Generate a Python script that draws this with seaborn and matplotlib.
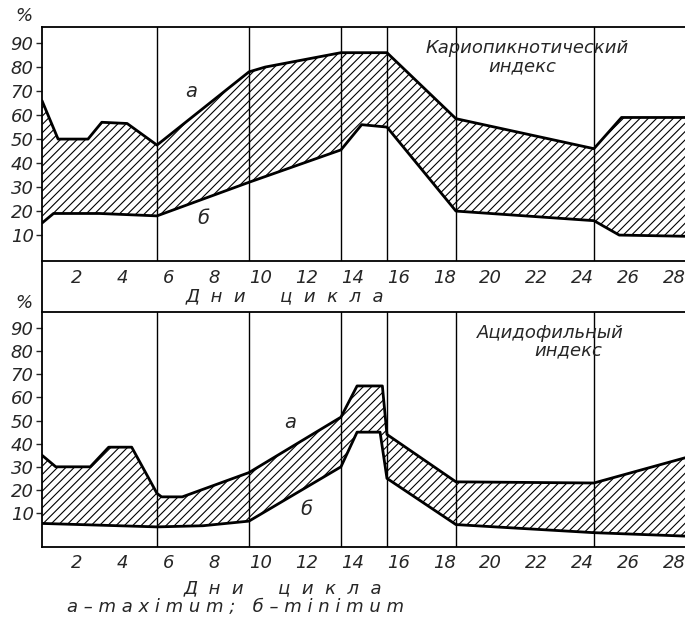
import matplotlib
matplotlib.use("Agg")
import matplotlib.pyplot as plt
from matplotlib.lines import Line2D
import numpy as np
import seaborn as sns

# Кариопикнотический индекс: a - maximum, б - minimum (день цикла, %)
kpi_max_day = [0.5, 1.2, 2.5, 3.1, 4.2, 5.5, 9.5, 10.2, 13.5, 15.5, 18.5, 24.5, 25.7, 28.5]
kpi_max = [66, 50, 50, 57, 56.5, 47.5, 78, 80, 86, 86, 58.5, 46, 59, 59]
kpi_min_day = [0.5, 1.0, 3.0, 5.5, 9.5, 13.5, 14.4, 15.5, 18.5, 24.5, 25.6, 28.5]
kpi_min = [15, 19, 19, 18, 32, 45.5, 56, 55, 20, 16, 10, 9.5]

# Ацидофильный индекс
aci_max_day = [0.5, 1.1, 2.6, 3.4, 4.4, 5.5, 5.7, 6.6, 9.5, 13.5, 14.2, 15.3, 15.5, 18.5, 24.5, 28.5]
aci_max = [35, 30, 30, 38.5, 38.5, 18.5, 17, 17, 27.5, 51.5, 65, 65, 44, 23.5, 23, 34]
aci_min_day = [0.5, 5.5, 7.5, 9.5, 13.5, 14.2, 15.2, 15.5, 18.5, 24.5, 28.5]
aci_min = [5.5, 4, 4.5, 6.5, 30, 45, 45, 25, 5, 1.5, 0]

phase_bounds = [5.5, 9.5, 13.5, 15.5, 18.5, 24.5]
day_ticks = list(range(2, 29, 2))
half_days = [d + 0.5 for d in range(1, 28)]
pct_ticks = list(range(10, 100, 10))

sns.set_style("white")
plt.rcParams["font.family"] = ["DejaVu Sans"]
plt.rcParams["font.style"] = "italic"
plt.rcParams["hatch.linewidth"] = 0.8

W, H = 685, 618
fig = plt.figure(figsize=(W / 100, H / 100), dpi=100)


def px_rect(left, top, right, bottom):
    return [left / W, 1 - bottom / H, (right - left) / W, (bottom - top) / H]


def panel(rect, ylim, mx_day, mx, mn_day, mn, tickdir, pad):
    ax = fig.add_axes(rect)
    xs = np.concatenate([mx_day, mn_day[::-1]])
    ys = np.concatenate([mx, mn[::-1]])
    ax.fill(xs, ys, facecolor="white", edgecolor="black", hatch="////", linewidth=0, zorder=1)
    for d in phase_bounds:
        ax.axvline(d, color="black", linewidth=1.0, zorder=2)
    sns.lineplot(x=mx_day, y=mx, color="black", linewidth=2.0, sort=False,
                 estimator=None, ax=ax, zorder=3)
    sns.lineplot(x=mn_day, y=mn, color="black", linewidth=2.0, sort=False,
                 estimator=None, ax=ax, zorder=3)
    ax.set_xlim(0.5, 28.46)
    ax.set_ylim(*ylim)
    ax.set_xticks(day_ticks)
    ax.set_xticks(half_days, minor=True)
    ax.set_yticks(pct_ticks)
    ax.tick_params(axis="x", which="major", length=0, pad=pad, labelsize=13)
    ax.tick_params(axis="x", which="minor", length=3, width=1, direction=tickdir)
    ax.tick_params(axis="y", left=True, length=4, width=1, direction="out",
                   pad=2, labelsize=13)
    ax.spines["right"].set_visible(False)
    for s in ["top", "left", "bottom"]:
        ax.spines[s].set_color("black")
        ax.spines[s].set_linewidth(1.3)
    ax.set_xlabel("")
    ax.set_ylabel("")
    return ax


ax1 = panel(px_rect(42, 27, 685, 261), (-0.8, 96.7),
            kpi_max_day, kpi_max, kpi_min_day, kpi_min, "in", 6)
ax2 = panel(px_rect(42, 312, 685, 547), (-4.7, 97),
            aci_max_day, aci_max, aci_min_day, aci_min, "out", 5)

# left frame line running through the label strip
fig.add_artist(Line2D([42 / W, 42 / W], [1 - 262 / H, 1 - 311 / H],
                      color="black", linewidth=1.3))

ax1.text(21.6, 88, "Кариопикнотический", ha="center", va="center", fontsize=13)
ax1.text(21.4, 80.5, "индекс", ha="center", va="center", fontsize=13)
ax1.text(7.0, 70, "а", ha="center", va="center", fontsize=14)
ax1.text(7.5, 17, "б", ha="center", va="center", fontsize=14)

ax2.text(22.6, 88, "Ацидофильный", ha="center", va="center", fontsize=13)
ax2.text(23.4, 80.5, "индекс", ha="center", va="center", fontsize=13)
ax2.text(11.3, 49, "а", ha="center", va="center", fontsize=14)
ax2.text(12.0, 11.5, "б", ha="center", va="center", fontsize=14)

fig.text(24 / W, 1 - 16 / H, "%", ha="center", va="center", fontsize=13)
fig.text(24 / W, 1 - 303 / H, "%", ha="center", va="center", fontsize=13)
fig.text(285 / W, 1 - 296 / H, "Д  н  и      ц  и  к  л  а", ha="center", va="center", fontsize=13)
fig.text(283 / W, 1 - 588 / H, "Д  н  и      ц  и  к  л  а", ha="center", va="center", fontsize=13)
fig.text(235 / W, 1 - 607 / H, "а – m a x i m u m ;   б – m i n i m u m",
         ha="center", va="center", fontsize=13)

fig.savefig("out.png", dpi=100, facecolor="white")
